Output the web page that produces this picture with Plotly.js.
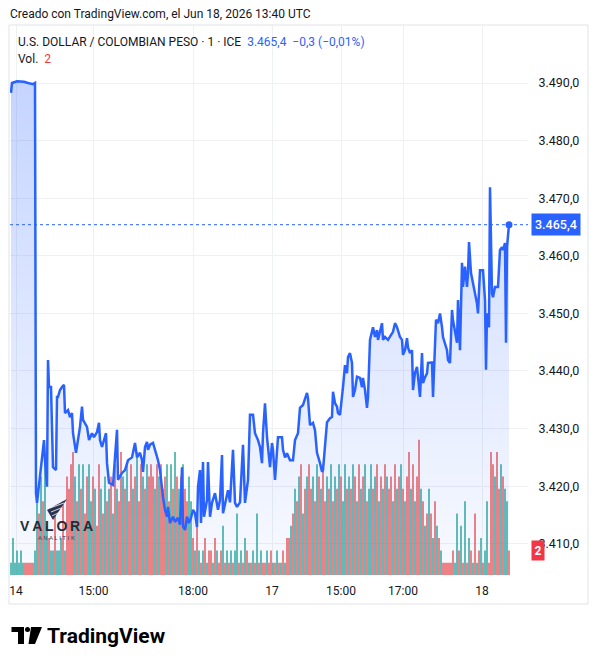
<!DOCTYPE html>
<html><head><meta charset="utf-8">
<script src="https://cdn.plot.ly/plotly-3.0.1.min.js"></script>
<style>html,body{margin:0;padding:0;background:#fff}#chart{width:598px;height:664px}</style>
</head><body><div id="chart"></div>
<script>
// ---- DATA (bar index along compressed 1-minute time axis) ----
const priceBar = [1,2,7,14,18,23,25,26,27,30,33,34,35,37,38,39,41,42,43,46,47,48,50,52,54,55,58,60,62,63,66,70,72,73,77,79,82,84,87,89,90,92,96,97,99,103,107,108,112,115,118,122,125,127,130,
132,133,135,137,138,140,143,145,148,150,152,153,155,157,158,160,163,165,168,170,172,173,175,177,179,181,183,185,187,188,190,191,193,194,197,198,200,202,205,207,208,210,212,213,215,218,220,223,225,227,230,233,235,238,240,243,245,248,250,
252,253,255,257,258,260,262,263,265,267,268,272,273,275,277,280,283,285,288,290,293,297,298,300,303,305,307,310,312,313,315,317,320,322,323,325,327,328,330,332,333,335,337,338,340,342,343,345,347,350,352,353,355,357,358,360,362,363,365,367,368,
372,373,375,378,380,383,385,387,390,392,393,395,397,398,400,402,403,405,407,408,410,412,413,415,417,418,422,423,424,426,428,430,432,433,437,438,440,442,443,445,447,448,450,452,453,455,457,458,459,461,463,465,467,468,470,473,475,476,477,479,480,482,483,485,488,490,492,493,495,496,497,499];
const priceVal = [3488.3,3490.0,3490.3,3490.2,3490.0,3489.8,3490.0,3418.8,3417.1,3422.3,3427.5,3428.0,3424.5,3419.9,3441.9,3437.2,3437.2,3427.5,3423.3,3422.8,3435.5,3435.5,3436.7,3437.2,3437.6,3432.7,3433.2,3432.0,3432.7,3429.2,3425.8,3430.3,3433.8,3431.5,3430.3,3428.0,3429.2,3428.5,3429.4,3431.0,3428.0,3426.8,3429.2,3424.0,3420.6,3420.2,3429.8,3421.1,3422.3,3422.8,3424.5,3425.0,3427.5,3425.0,3425.8,
3424.5,3422.5,3426.8,3427.7,3426.3,3427.2,3427.5,3426.3,3424.5,3422.8,3418.8,3418.1,3415.9,3414.7,3416.4,3413.6,3414.7,3413.8,3414.5,3413.3,3423.3,3413.0,3412.4,3414.7,3413.6,3414.5,3415.9,3415.3,3412.9,3419.9,3422.8,3413.6,3424.2,3414.7,3417.6,3424.2,3414.7,3417.1,3418.8,3417.1,3415.9,3417.6,3425.4,3415.3,3417.1,3419.3,3417.2,3426.3,3417.1,3416.4,3417.2,3427.2,3417.1,3421.1,3432.4,3432.4,3429.2,3428.0,3426.8,
3424.0,3429.2,3434.4,3428.5,3426.3,3423.3,3427.5,3426.3,3421.1,3426.8,3428.5,3428.5,3426.3,3425.0,3425.7,3424.5,3424.5,3428.0,3429.2,3433.6,3434.1,3436.2,3435.3,3430.6,3431.0,3429.7,3425.8,3424.0,3422.5,3422.8,3426.8,3431.1,3431.8,3432.0,3436.4,3434.4,3433.8,3432.7,3432.4,3435.0,3437.2,3441.0,3439.6,3442.4,3443.1,3441.4,3435.5,3436.7,3439.0,3438.8,3437.2,3438.8,3436.7,3433.6,3435.5,3445.4,3446.6,3447.6,3445.9,3447.1,3445.4,
3448.3,3445.4,3445.9,3445.4,3445.9,3446.8,3448.3,3447.6,3445.9,3445.4,3442.8,3443.6,3445.7,3444.1,3443.1,3443.6,3436.7,3439.7,3440.7,3438.5,3435.5,3443.1,3437.9,3438.9,3439.6,3441.4,3441.5,3435.5,3441.4,3448.9,3448.3,3450.0,3447.6,3445.9,3443.6,3441.9,3441.4,3450.6,3448.8,3446.5,3444.9,3452.3,3443.6,3458.8,3454.6,3458.1,3454.6,3457.0,3462.4,3457.0,3455.2,3453.5,3451.7,3450.0,3457.5,3457.5,3452.3,3440.2,3450.0,3447.6,3471.9,3453.5,3452.8,3454.6,3454.6,3461.0,3461.5,3461.0,3462.2,3444.9,3461.5,3465.4];

const volVal = [1,3,1,2,1,2,1,1,1,1, 1,1,2,7,5,8,6,9,4,3, 2,2,5,2,2,3,6,2,8,7, 9,10,8,6,9,7,9,5,8,9, 6,8,7,4,9,7,5,8,6,7,
  8,5,9,7,6,10,8,7,9,6, 9,7,8,10,6,9,8,7,9,8, 9,8,7,9,8,9,7,8,9,6, 9,7,10,8,7,8,9,7,6,8, 6,3,2,4,2,1,2,3,1,2,
  2,1,3,2,1,2,4,1,2,1, 2,1,2,5,1,2,1,3,2,1, 1,2,1,5,1,2,1,1,2,1, 2,1,1,2,1,1,2,1,3,3, 4,5,7,6,8,9,5,7,8,9,
  7,8,6,9,8,7,9,6,8,7, 9,6,8,7,9,8,6,9,7,8, 7,9,8,6,9,7,8,9,6,7, 9,7,8,9,6,8,7,9,8,7, 8,6,9,7,8,9,7,6,8,10,
  7,9,6,8,11,7,6,4,5,7, 5,3,6,4,3,2,1,1,1,1, 1,2,1,5,2,4,1,6,1,3, 2,1,5,1,2,3,1,2,6,1, 10,9,8,10,7,9,8,7,6,2];
const volUp = [1,1,1,1,1,1,1,0,0,0, 0,0,1,1,0,1,0,1,1,0, 1,1,0,1,1,1,0,1,0,0, 0,0,1,0,1,0,1,0,0,1, 1,0,1,0,0,1,0,1,0,1,
  0,1,0,1,0,0,1,0,1,0, 0,1,0,1,0,0,1,0,1,0, 0,0,1,0,1,0,0,0,1,0, 1,0,1,0,1,0,1,0,0,1, 1,0,1,0,1,0,1,0,1,0,
  0,1,0,1,0,0,1,0,1,0, 1,0,1,1,0,1,0,1,0,1, 0,1,0,1,0,1,0,0,1,0, 0,1,0,1,0,1,0,1,0,0, 1,0,1,0,1,0,1,0,1,0,
  0,1,0,1,0,1,0,0,1,0, 1,0,1,0,1,0,1,1,0,1, 0,1,0,1,0,1,0,1,0,1, 1,0,1,0,1,0,1,0,1,0, 0,1,0,1,0,1,0,1,0,0,
  1,0,1,0,0,1,0,1,0,1, 0,1,0,1,0,1,0,0,0,0, 0,0,1,1,0,1,0,1,0,1, 0,1,0,1,0,1,0,1,1,0, 0,0,1,0,0,1,0,1,1,0];
const volBar = volVal.map((v, i) => 2 * i + 1);

const timeTickPos  = [6, 83.5, 183, 262, 331, 393, 472];
const timeTickText = ['14', '15:00', '18:00', '17', '15:00', '17:00', '18'];
const priceTicks = [3410, 3420, 3430, 3440, 3450, 3460, 3470, 3480, 3490];

const headerText = 'Creado con TradingView.com, el Jun 18, 2026 13:40 UTC';
const symbolText = 'U.S. DOLLAR / COLOMBIAN PESO · 1 · ICE';
const lastChange = -0.3, lastChangePct = -0.01;

// ---- helpers ----
const lastPrice = priceVal[priceVal.length - 1];
const lastBar = priceBar[priceBar.length - 1];
const lastVol = volVal[volVal.length - 1];
function fmt(v, d) {
  const s = Math.abs(v).toFixed(d).split('.');
  const intp = s[0].replace(/\B(?=(\d{3})+(?!\d))/g, '.');
  return (v < 0 ? '\u2212' : '') + intp + (d ? ',' + s[1] : '');
}
// pixel -> paper (plot area x 10..528, y 25..575)
const PL = 10, PR = 528, PT = 25, PB = 575;
const PX = x => (x - PL) / (PR - PL);
const PY = y => (PB - y) / (PB - PT);
const Y_MIN = 3404.58, Y_MAX = 3500.07;
const V_MAX = 44.7;

const FONT = 'Roboto, "Liberation Sans", sans-serif';
const TXT = '#131722';
const BLUE = '#2962ff';
const nb = '\u00a0';

const traces = [
  { type: 'bar', x: volBar, y: volVal, xaxis: 'x', yaxis: 'y', width: 2,
    marker: { color: volUp.map(u => u ? 'rgba(38,166,154,0.72)' : 'rgba(239,83,80,0.72)'), line: { width: 0 } },
    hoverinfo: 'skip' },
  { type: 'scatter', mode: 'lines', x: [priceBar[0], lastBar], y: [Y_MIN, Y_MIN], yaxis: 'y2',
    line: { width: 0, color: 'rgba(0,0,0,0)' }, hoverinfo: 'skip' },
  { type: 'scatter', mode: 'lines', x: priceBar, y: priceVal, yaxis: 'y2',
    line: { color: BLUE, width: 2.5 }, fill: 'tonexty',
    fillgradient: { type: 'vertical', start: Y_MIN, stop: 3490,
      colorscale: [[0, 'rgba(41,98,255,0.03)'], [1, 'rgba(41,98,255,0.27)']] },
    hoverinfo: 'skip' },
  { type: 'scatter', mode: 'markers', x: [lastBar], y: [lastPrice], yaxis: 'y2',
    marker: { color: BLUE, size: 7 }, hoverinfo: 'skip' }
];

const anns = [
  { xref: 'paper', yref: 'paper', x: PX(8), y: PY(14), xanchor: 'left', yanchor: 'middle', showarrow: false,
    text: headerText, font: { family: FONT, size: 12, color: TXT } },
  { xref: 'paper', yref: 'paper', x: PX(16), y: PY(42), xanchor: 'left', yanchor: 'middle', showarrow: false,
    text: symbolText + nb + nb + '<span style="color:' + BLUE + '">' + fmt(lastPrice, 1) + nb + nb + fmt(lastChange, 1) + ' (' + fmt(lastChangePct, 2) + '%)</span>',
    font: { family: FONT, size: 12, color: TXT } },
  { xref: 'paper', yref: 'paper', x: PX(16), y: PY(59), xanchor: 'left', yanchor: 'middle', showarrow: false,
    text: 'Vol.' + nb + nb + '<span style="color:#f23645">' + lastVol + '</span>',
    font: { family: FONT, size: 12, color: TXT } },
  // last price label on scale
  { xref: 'paper', yref: 'y2', x: 1, y: lastPrice, xanchor: 'left', yanchor: 'middle', xshift: 3, showarrow: false,
    text: fmt(lastPrice, 1), bgcolor: BLUE, borderpad: 3, font: { family: FONT, size: 12.5, weight: 500, color: '#ffffff' } },
  // last volume label
  { xref: 'paper', yref: 'y', x: 1, y: lastVol, xanchor: 'left', yanchor: 'middle', xshift: 3, showarrow: false,
    text: '<b>' + lastVol + '</b>', bgcolor: '#f23645', borderpad: 2.5, font: { family: FONT, size: 12, color: '#ffffff' } },
  // watermark
  { xref: 'paper', yref: 'paper', x: PX(56), y: PY(526), xanchor: 'center', yanchor: 'middle', showarrow: false,
    text: 'V\u2009A\u2009L\u2009O\u2009R\u2009A', font: { family: '"Liberation Sans", Arial, sans-serif', size: 14, weight: 700, color: '#262a36' } },
  { xref: 'paper', yref: 'paper', x: PX(56), y: PY(538), xanchor: 'center', yanchor: 'middle', showarrow: false,
    text: 'A N A L I T I K', font: { family: '"Liberation Sans", Arial, sans-serif', size: 6, color: '#3a3d48' } },
  // TradingView logo text
  { xref: 'paper', yref: 'paper', x: PX(45), y: PY(636), xanchor: 'left', yanchor: 'middle', showarrow: false,
    text: 'TradingView', font: { family: 'Roboto, sans-serif', size: 21, weight: 700, color: '#000000' } }
];

function path(pts) { return 'M ' + pts.map(p => PX(p[0]) + ',' + PY(p[1])).join(' L ') + ' Z'; }
const shapes = [
  // frame
  { type: 'rect', xref: 'paper', yref: 'paper', x0: PX(9), x1: PX(588), y0: PY(604), y1: PY(25),
    line: { color: '#e0e3eb', width: 1 }, fillcolor: 'rgba(0,0,0,0)', layer: 'above' },
  // dotted last price line
  { type: 'line', xref: 'paper', yref: 'y2', x0: 0, x1: 1, y0: lastPrice, y1: lastPrice,
    line: { color: BLUE, width: 1, dash: 'dot' } },
  // watermark icon (wing with stripes)
  { type: 'path', xref: 'paper', yref: 'paper', path: path([[47, 510], [67, 499], [53, 520]]),
    fillcolor: '#2b3350', line: { width: 0 } },
  { type: 'line', xref: 'paper', yref: 'paper', x0: PX(50), y0: PY(508), x1: PX(64), y1: PY(503), line: { color: '#ffffff', width: 0.8 } },
  { type: 'line', xref: 'paper', yref: 'paper', x0: PX(51), y0: PY(512), x1: PX(61), y1: PY(508), line: { color: '#ffffff', width: 0.8 } },
  { type: 'line', xref: 'paper', yref: 'paper', x0: PX(52), y0: PY(516), x1: PX(58), y1: PY(513), line: { color: '#ffffff', width: 0.8 } },
  // TradingView glyph
  { type: 'path', xref: 'paper', yref: 'paper', path: path([[11.5, 627], [24, 627], [24, 644], [18, 644], [18, 632], [11.5, 632]]),
    fillcolor: '#000', line: { width: 0 } },
  { type: 'circle', xref: 'paper', yref: 'paper', x0: PX(25), x1: PX(30), y0: PY(632), y1: PY(627),
    fillcolor: '#000', line: { width: 0 } },
  { type: 'path', xref: 'paper', yref: 'paper', path: path([[31, 627], [42, 627], [35, 644], [28.5, 644]]),
    fillcolor: '#000', line: { width: 0 } }
];

const layout = {
  width: 598, height: 664,
  margin: { l: PL, r: 598 - PR, t: PT, b: 664 - PB, pad: 0 },
  paper_bgcolor: '#ffffff', plot_bgcolor: '#ffffff',
  showlegend: false, hovermode: false, separators: ',.',
  xaxis: { range: [0, 518], tickvals: timeTickPos, ticktext: timeTickText, showgrid: true, gridcolor: '#eef0f4',
    zeroline: false, showline: false, ticks: 'outside', ticklen: 5, tickcolor: 'rgba(0,0,0,0)',
    tickfont: { family: FONT, size: 12, color: TXT }, fixedrange: true },
  yaxis: { range: [0, V_MAX], visible: false, showgrid: false, zeroline: false, fixedrange: true },
  yaxis2: { overlaying: 'y', side: 'right', range: [Y_MIN, Y_MAX], tickvals: priceTicks, tickformat: ',.1f',
    showgrid: true, gridcolor: '#eef0f4', zeroline: false, showline: false, ticks: 'outside', ticklen: 7,
    tickcolor: 'rgba(0,0,0,0)', tickfont: { family: FONT, size: 12.5, color: TXT }, fixedrange: true },
  annotations: anns, shapes: shapes
};

Plotly.newPlot('chart', traces, layout, { staticPlot: true, displayModeBar: false });
</script></body></html>
